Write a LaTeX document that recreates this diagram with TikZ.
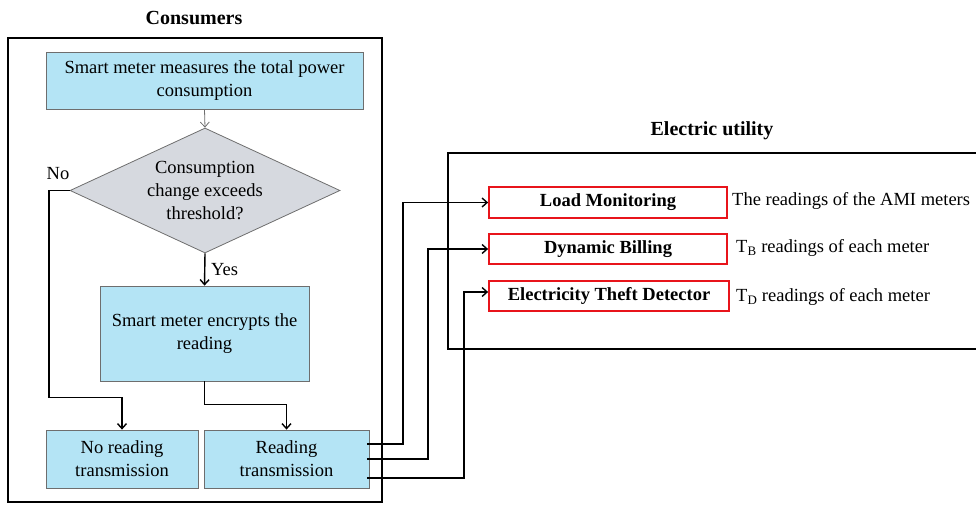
\documentclass[tikz,border=0pt]{standalone}
\usepackage{fontspec}
\setmainfont{Liberation Serif}
\usetikzlibrary{shapes.geometric,arrows.meta,calc}
\definecolor{boxblue}{RGB}{180,228,245}
\definecolor{diagray}{RGB}{214,217,223}
\definecolor{edgegray}{RGB}{110,110,110}
\definecolor{redline}{RGB}{232,20,27}
\begin{document}
\begin{tikzpicture}[x=1pt,y=-1pt,
  txt/.style={font=\fontsize{18.5}{23}\selectfont, align=center, inner sep=0pt},
  ttl/.style={font=\fontsize{20}{24}\selectfont\bfseries, inner sep=0pt},
  bluebox/.style={txt, draw=edgegray, fill=boxblue, line width=0.8pt, rectangle},
  redbox/.style={draw=redline, fill=white, line width=1.8pt, rectangle, inner sep=0pt, font=\fontsize{18.5}{23}\selectfont\bfseries},
  conn/.style={line width=1.4pt, -{Straight Barb[length=5pt,width=9pt]}},
  thinconn/.style={line width=0.8pt, draw=edgegray, -{Straight Barb[length=5pt,width=9pt]}}
]
\useasboundingbox (0,0) rectangle (976,504);
\clip (0,0) rectangle (976,504);

% frames
\node[ttl] (tcons) at (194,18) {Consumers};
\draw[line width=2pt] (8,38) rectangle (382,502);
\node[ttl] (tutil) at (712,131) {Electric utility};
\draw[line width=1.6pt] (448,153) rectangle (990,349);

% consumer flow
\node[bluebox, minimum width=317pt, minimum height=57pt] (top) at (204.5,80.5)
  {Smart meter measures the total power\\consumption};
\node[txt, diamond, draw=edgegray, fill=diagray, line width=0.8pt, aspect=2.16,
  minimum width=270pt, minimum height=125pt] (dia) at (205,190.5)
  {Consumption\\change exceeds\\threshold?};
\node[bluebox, minimum width=209pt, minimum height=95pt] (enc) at (204.5,333.5)
  {Smart meter encrypts the\\reading};
\node[bluebox, minimum width=152pt, minimum height=58pt] (nr) at (122,459)
  {No reading\\transmission};
\node[bluebox, minimum width=165pt, minimum height=58pt] (rt) at (286.5,459)
  {Reading\\transmission};

\node[txt] (no) at (58,174) {No};
\node[txt, anchor=west] (yes) at (211,270) {Yes};

\draw[thinconn] (top.south) -- (dia.north);
\draw[conn] (dia.south) -- (enc.north);
\draw[conn] (dia.west) -| ([xshift=-73pt,yshift=32pt]nr.north) -| (nr.north);
\draw[conn] (enc.south) |- ([yshift=25pt]rt.north) -- (rt.north);

% utility
\node[redbox, minimum width=238pt, minimum height=31pt] (lm) at (608,202.5) {Load Monitoring};
\node[redbox, minimum width=238pt, minimum height=30pt] (db) at (608,249) {Dynamic Billing};
\node[redbox, minimum width=240pt, minimum height=30pt] (ed) at (609,296) {Electricity Theft Detector};

\node[txt, anchor=west] (l1) at (732,201) {The readings of the AMI meters};
\node[txt, anchor=west] (l2) at (736,248) {T\textsubscript{B} readings of each meter};
\node[txt, anchor=west] (l3) at (736,297) {T\textsubscript{D} readings of each meter};

% outgoing connectors
\coordinate (o1) at ([xshift=-2pt,yshift=15pt]rt.east);
\coordinate (o2) at ([xshift=-2pt]rt.east);
\coordinate (o3) at ([xshift=-2pt,yshift=-19pt]rt.east);
\draw[conn] (o1) -| ([xshift=-85pt]lm.west) -- (lm.west);
\draw[conn] (o2) -| ([xshift=-60pt]db.west) -- (db.west);
\draw[conn] (o3) -| ([xshift=-24pt,yshift=4pt]ed.west) -- ([yshift=4pt]ed.west);
\end{tikzpicture}
\end{document}
